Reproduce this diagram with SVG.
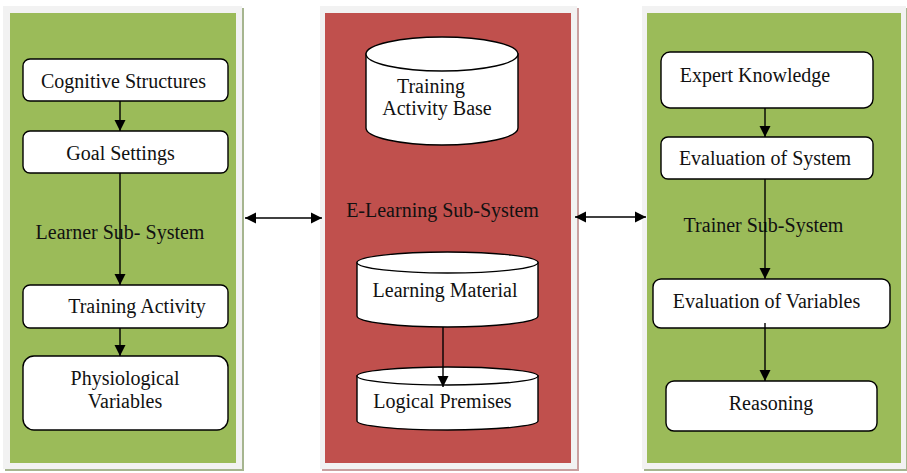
<svg xmlns="http://www.w3.org/2000/svg" width="907" height="473" viewBox="0 0 907 473">
  <defs>
    <marker id="head" markerWidth="12" markerHeight="12" refX="11" refY="6" orient="auto-start-reverse" markerUnits="userSpaceOnUse">
      <path d="M0,0.5 L11,6 L0,11.5 Z" fill="#000"/>
    </marker>
    <style>
      text { font-family: "Liberation Serif", "Times New Roman", serif; font-size: 20px; fill: #111; text-anchor: middle; }
      .box { fill: #fff; stroke: #000; stroke-width: 1.4; }
      .cyl { fill: #fff; stroke: #000; stroke-width: 1.4; }
      .wire { fill: none; stroke: #000; stroke-width: 1.4; }
      .frame { fill: #f2f2f2; }
    </style>
  </defs>
  <rect width="907" height="473" fill="#fff"/>

  <!-- panels -->
  <g id="learner-panel">
    <rect x="5" y="8" width="239" height="463" fill="#a6b58f"/>
    <rect x="3" y="6" width="239" height="463" class="frame"/>
    <rect x="10" y="13" width="226" height="450" fill="#9bbb59"/>
    <text x="120" y="239">Learner Sub- System</text>
  </g>
  <g id="elearning-panel">
    <rect x="322" y="8" width="257" height="463" fill="#c9a0a0"/>
    <rect x="320" y="6" width="257" height="463" class="frame"/>
    <rect x="325" y="13" width="246" height="450" fill="#c0504d"/>
    <text x="442.5" y="217">E-Learning Sub-System</text>
  </g>
  <g id="trainer-panel">
    <rect x="644" y="8" width="263" height="463" fill="#a6b58f"/>
    <rect x="642" y="6" width="264" height="463" class="frame"/>
    <rect x="647" y="13" width="254" height="450" fill="#9bbb59"/>
    <text x="763.5" y="232">Trainer Sub-System</text>
  </g>

  <!-- learner sub-system nodes -->
  <g id="cognitive-structures">
    <rect x="23" y="59" width="205" height="42" rx="7" class="box"/>
    <text x="123.5" y="88">Cognitive Structures</text>
  </g>
  <g id="goal-settings">
    <rect x="23" y="131" width="205" height="42" rx="7" class="box"/>
    <text x="120.5" y="160">Goal Settings</text>
  </g>
  <g id="training-activity">
    <rect x="23" y="285" width="205" height="43" rx="7" class="box"/>
    <text x="137" y="313">Training Activity</text>
  </g>
  <g id="physiological-variables">
    <rect x="23" y="356" width="205" height="74" rx="11" class="box"/>
    <text x="125" y="385">Physiological</text>
    <text x="125" y="408">Variables</text>
  </g>

  <!-- e-learning sub-system nodes -->
  <g id="training-activity-base">
    <path d="M366,54 L366,128 A76,17 0 0 0 518,128 L518,54 Z" class="cyl"/>
    <ellipse cx="442" cy="54" rx="76" ry="17" class="cyl"/>
    <text x="431" y="93">Training</text>
    <text x="437" y="115">Activity Base</text>
  </g>
  <g id="learning-material">
    <path d="M357,262.5 L357,316 A90.5,11 0 0 0 538,316 L538,262.5 Z" class="cyl"/>
    <ellipse cx="447.5" cy="262.5" rx="90.5" ry="10.5" class="cyl"/>
    <text x="445" y="297">Learning Material</text>
  </g>
  <g id="logical-premises">
    <path d="M357,376 L357,421 A90.5,9 0 0 0 538,421 L538,376 Z" class="cyl"/>
    <ellipse cx="447.5" cy="376" rx="90.5" ry="9" class="cyl"/>
    <text x="442.5" y="408">Logical Premises</text>
  </g>

  <!-- trainer sub-system nodes -->
  <g id="expert-knowledge">
    <rect x="661" y="52" width="212" height="56" rx="9" class="box"/>
    <text x="755" y="82">Expert Knowledge</text>
  </g>
  <g id="evaluation-of-system">
    <rect x="661" y="137" width="212" height="42" rx="7" class="box"/>
    <text x="765" y="165">Evaluation of System</text>
  </g>
  <g id="evaluation-of-variables">
    <rect x="653" y="279" width="237" height="49" rx="8" class="box"/>
    <text x="766.5" y="308">Evaluation of Variables</text>
  </g>
  <g id="reasoning">
    <rect x="666" y="381" width="211" height="50" rx="8" class="box"/>
    <text x="771" y="410">Reasoning</text>
  </g>

  <!-- connectors, drawn above the nodes -->
  <g id="connectors">
    <line x1="120" y1="101" x2="120" y2="131" class="wire" marker-end="url(#head)"/>
    <line x1="120" y1="173" x2="120" y2="285" class="wire" marker-end="url(#head)"/>
    <line x1="120" y1="328" x2="120" y2="356" class="wire" marker-end="url(#head)"/>
    <line x1="443" y1="327" x2="443" y2="387" class="wire" marker-end="url(#head)"/>
    <line x1="765" y1="108" x2="765" y2="137" class="wire" marker-end="url(#head)"/>
    <line x1="765" y1="179" x2="765" y2="279" class="wire" marker-end="url(#head)"/>
    <line x1="765" y1="323" x2="765" y2="381" class="wire" marker-end="url(#head)"/>
    <line x1="245" y1="218" x2="322" y2="218" class="wire" marker-start="url(#head)" marker-end="url(#head)"/>
    <line x1="575" y1="217" x2="646" y2="217" class="wire" marker-start="url(#head)" marker-end="url(#head)"/>
  </g>
</svg>
